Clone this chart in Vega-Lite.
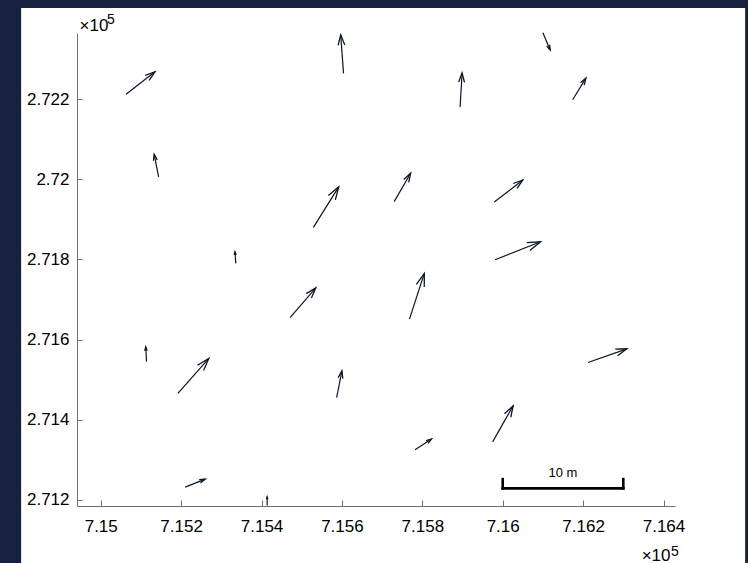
{
  "$schema": "https://vega.github.io/schema/vega-lite/v6.json",
  "width": 598,
  "height": 473,
  "autosize": {"type": "none"},
  "padding": {"left": 77, "top": 33, "right": 73, "bottom": 57},
  "background": "#18213e",
  "config": {"view": {"stroke": null}, "font": "Liberation Sans"},
  "datasets": {
    "panel": [{"x0": 714802, "x1": 716603, "y0": 270990, "y1": 272427}],
    "arrows": [
      {"x": 715063, "y": 272212, "x2": 715135, "y2": 272268},
      {"x": 715604, "y": 272264, "x2": 715597, "y2": 272360},
      {"x": 716100, "y": 272365, "x2": 716118, "y2": 272322},
      {"x": 715894, "y": 272180, "x2": 715899, "y2": 272265},
      {"x": 716174, "y": 272198, "x2": 716207, "y2": 272252},
      {"x": 715144, "y": 272006, "x2": 715133, "y2": 272062},
      {"x": 715529, "y": 271880, "x2": 715592, "y2": 271981},
      {"x": 715730, "y": 271944, "x2": 715771, "y2": 272015},
      {"x": 715979, "y": 271943, "x2": 716050, "y2": 271998},
      {"x": 715981, "y": 271799, "x2": 716094, "y2": 271844},
      {"x": 715336, "y": 271790, "x2": 715334, "y2": 271819},
      {"x": 715471, "y": 271655, "x2": 715535, "y2": 271729},
      {"x": 715768, "y": 271651, "x2": 715805, "y2": 271765},
      {"x": 715114, "y": 271545, "x2": 715112, "y2": 271582},
      {"x": 715192, "y": 271466, "x2": 715269, "y2": 271553},
      {"x": 715587, "y": 271455, "x2": 715600, "y2": 271522},
      {"x": 716212, "y": 271543, "x2": 716309, "y2": 271577},
      {"x": 715975, "y": 271345, "x2": 716026, "y2": 271435},
      {"x": 715782, "y": 271325, "x2": 715823, "y2": 271352},
      {"x": 715210, "y": 271232, "x2": 715260, "y2": 271252},
      {"x": 715414, "y": 271186, "x2": 715414, "y2": 271208}
    ],
    "bar": [
      {"x": 716000, "x2": 716300, "y": 271229, "y2": 271229},
      {"x": 716000, "x2": 716000, "y": 271229, "y2": 271252},
      {"x": 716300, "x2": 716300, "y": 271229, "y2": 271252}
    ],
    "barlabel": [{"x": 716150, "y": 271257, "label": "10 m"}],
    "supTop": [{"x": 714941, "y": 272364.6, "label": "5"}],
    "supBottom": [{"x": 716428.6, "y": 271185, "label": "5"}]
  },
  "layer": [
    {
      "data": {"name": "panel"},
      "mark": {"type": "rect", "fill": "white", "clip": false},
      "encoding": {
        "x": {"field": "x0", "type": "quantitative",
          "scale": {"domain": [714941, 716428.6], "nice": false, "zero": false},
          "axis": {
            "values": [715000, 715200, 715400, 715600, 715800, 716000, 716200, 716400],
            "labelExpr": "format(datum.value/1e5, '.4~f')",
            "title": "×10", "titleX": 593, "titleY": 54, "titleAlign": "right", "titleAnchor": null,
            "titleBaseline": "alphabetic", "titleFontSize": 17, "titleFontWeight": "normal", "titleColor": "#000",
            "tickSize": -6, "labelPadding": 18, "labelFontSize": 17, "labelColor": "#000",
            "domainColor": "#6e6e6e", "tickColor": "#6e6e6e", "grid": false, "zindex": 1,
            "labelFlush": false, "labelOverlap": false
          }},
        "x2": {"field": "x1"},
        "y": {"field": "y0", "type": "quantitative",
          "scale": {"domain": [271185, 272364.6], "nice": false, "zero": false},
          "axis": {
            "values": [271200, 271400, 271600, 271800, 272000, 272200],
            "labelExpr": "format(datum.value/1e5, '.4~f')",
            "title": "×10", "titleX": 2, "titleY": -3, "titleAngle": 0, "titleAlign": "left", "titleAnchor": null,
            "titleBaseline": "alphabetic", "titleFontSize": 17, "titleFontWeight": "normal", "titleColor": "#000",
            "tickSize": -5, "labelPadding": 13, "labelFontSize": 17, "labelColor": "#000",
            "domainColor": "#6e6e6e", "tickColor": "#6e6e6e", "grid": false, "zindex": 1,
            "labelFlush": false, "labelOverlap": false
          }},
        "y2": {"field": "y1"}
      }
    },
    {
      "data": {"name": "arrows"},
      "mark": {"type": "rule", "stroke": "#0b1626", "strokeWidth": 1.2},
      "encoding": {
        "x": {"field": "x", "type": "quantitative", "scale": {"domain": [714941, 716428.6], "nice": false, "zero": false}},
        "y": {"field": "y", "type": "quantitative", "scale": {"domain": [271185, 272364.6], "nice": false, "zero": false}},
        "x2": {"field": "x2"},
        "y2": {"field": "y2"}
      }
    },
    {
      "data": {"name": "arrows"},
      "transform": [
        {"calculate": "atan2(datum.x2 - datum.x, datum.y2 - datum.y) * 180 / PI", "as": "ang"},
        {"calculate": "sqrt(pow(datum.x2 - datum.x, 2) + pow(datum.y2 - datum.y, 2))", "as": "len"}
      ],
      "mark": {"type": "point", "shape": "M-0.32,1L0,0L0.32,1", "filled": false, "stroke": "#0b1626", "strokeWidth": 1.3, "opacity": 1},
      "encoding": {
        "x": {"field": "x2", "type": "quantitative", "scale": {"domain": [714941, 716428.6], "nice": false, "zero": false}},
        "y": {"field": "y2", "type": "quantitative", "scale": {"domain": [271185, 272364.6], "nice": false, "zero": false}},
        "angle": {"field": "ang", "type": "quantitative", "scale": {"domain": [-180, 180], "range": [-180, 180]}},
        "size": {"field": "len", "type": "quantitative", "scale": {"type": "pow", "exponent": 2, "domain": [0, 120], "range": [0, 674]}, "legend": null}
      }
    },
    {
      "data": {"name": "bar"},
      "mark": {"type": "rule", "stroke": "#000", "strokeWidth": 2.6, "strokeCap": "square"},
      "encoding": {
        "x": {"field": "x", "type": "quantitative", "scale": {"domain": [714941, 716428.6], "nice": false, "zero": false}},
        "y": {"field": "y", "type": "quantitative", "scale": {"domain": [271185, 272364.6], "nice": false, "zero": false}},
        "x2": {"field": "x2"},
        "y2": {"field": "y2"}
      }
    },
    {
      "data": {"name": "barlabel"},
      "mark": {"type": "text", "fontSize": 13, "color": "#000", "align": "center", "baseline": "alphabetic"},
      "encoding": {
        "x": {"field": "x", "type": "quantitative", "scale": {"domain": [714941, 716428.6], "nice": false, "zero": false}},
        "y": {"field": "y", "type": "quantitative", "scale": {"domain": [271185, 272364.6], "nice": false, "zero": false}},
        "text": {"field": "label"}
      }
    },
    {
      "data": {"name": "supTop"},
      "mark": {"type": "text", "fontSize": 14, "color": "#000", "align": "left", "baseline": "alphabetic", "dx": 30, "dy": -9},
      "encoding": {
        "x": {"field": "x", "type": "quantitative", "scale": {"domain": [714941, 716428.6], "nice": false, "zero": false}},
        "y": {"field": "y", "type": "quantitative", "scale": {"domain": [271185, 272364.6], "nice": false, "zero": false}},
        "text": {"field": "label"}
      }
    },
    {
      "data": {"name": "supBottom"},
      "mark": {"type": "text", "fontSize": 14, "color": "#000", "align": "left", "baseline": "alphabetic", "dx": -4, "dy": 50},
      "encoding": {
        "x": {"field": "x", "type": "quantitative", "scale": {"domain": [714941, 716428.6], "nice": false, "zero": false}},
        "y": {"field": "y", "type": "quantitative", "scale": {"domain": [271185, 272364.6], "nice": false, "zero": false}},
        "text": {"field": "label"}
      }
    }
  ]
}
